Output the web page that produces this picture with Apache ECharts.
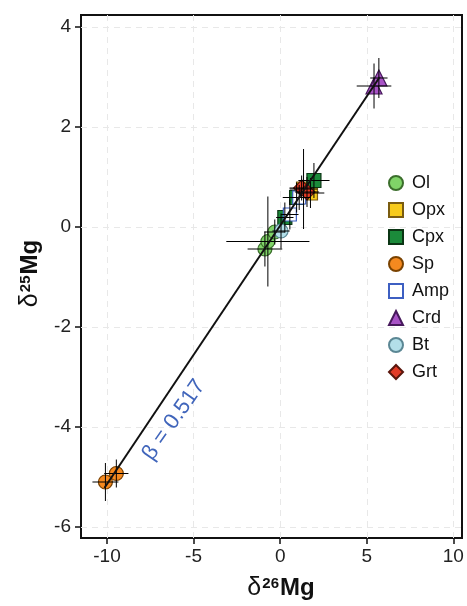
<!DOCTYPE html>
<html>
<head>
<meta charset="utf-8">
<script src="https://cdn.jsdelivr.net/npm/echarts@6/dist/echarts.min.js"></script>
<style>html,body{margin:0;padding:0;background:#fff}#c{width:467px;height:606px}</style>
</head>
<body>
<div id="c"></div>
<script>
// Each point: [d26Mg, d25Mg, err26, err25]
const Ol  = [[-0.88,-0.44,1.0,0.35],[-0.71,-0.29,2.4,0.9],[-0.31,-0.1,0.6,0.25]];
const Opx = [[1.35,0.76,0.8,0.8],[1.75,0.68,0.8,0.3]];
const Cpx = [[0.27,0.19,0.5,0.3],[0.95,0.59,0.8,0.3],[1.95,0.93,0.9,0.35]];
const Sp  = [[-10.09,-5.1,0.75,0.38],[-9.46,-4.93,0.7,0.28]];
const Amp = [[0.56,0.25,0.5,0.3],[1.1,0.59,0.6,0.25]];
const Crd = [[5.42,2.82,1.0,0.45],[5.7,2.98,0.5,0.4]];
const Bt  = [[0.05,-0.08,0.5,0.35]];
const Grt = [[1.24,0.78,0.7,0.25],[1.55,0.7,0.7,0.3]];
const fitLine = [[-10.15,-5.22],[5.75,3.0]];
const xTicks = [-10,-5,0,5,10];
const yTicks = [-6,-4,-2,0,2,4];

const groups = [
  {name:'Ol', data:Ol, symbol:'circle', size:14, color:'#80d468', border:'#3b6e2c'},
  {name:'Opx', data:Opx, symbol:'rect', size:14, color:'#f7cb1c', border:'#7a5c10'},
  {name:'Cpx', data:Cpx, symbol:'rect', size:14, color:'#1b8a3a', border:'#0b3514'},
  {name:'Sp', data:Sp, symbol:'circle', size:14, color:'#f5891f', border:'#7a4200'},
  {name:'Amp', data:Amp, symbol:'rect', size:13, color:'#ffffff', border:'#3d5fc2'},
  {name:'Crd', data:Crd, symbol:'triangle', size:16, color:'#a853c6', border:'#47195c'},
  {name:'Bt', data:Bt, symbol:'circle', size:14, color:'#b3dfe9', border:'#5b8794'},
  {name:'Grt', data:Grt, symbol:'diamond', size:16, color:'#e23b26', border:'#5a160c'}
];

const errData = [];
groups.forEach(g => g.data.forEach(d => errData.push(d)));

const font = 'Liberation Sans';
const series = groups.map(g => ({
  name: g.name, type: 'scatter', symbol: g.symbol, symbolSize: g.size, z: 2,
  data: g.data.map(d => [d[0], d[1]]),
  itemStyle: {color: g.color, borderColor: g.border, borderWidth: 1.2, opacity: 1}
}));
series.push({
  type: 'custom', z: 3, silent: true, encode: {x: 0, y: 1},
  data: errData,
  renderItem: function (params, api) {
    const x = api.value(0), y = api.value(1), ex = api.value(2), ey = api.value(3);
    const a = api.coord([x - ex, y]), b = api.coord([x + ex, y]);
    const c = api.coord([x, y - ey]), d = api.coord([x, y + ey]);
    return {type: 'group', children: [
      {type: 'line', shape: {x1: a[0], y1: a[1], x2: b[0], y2: b[1]}, style: {stroke: '#000', lineWidth: 1}},
      {type: 'line', shape: {x1: c[0], y1: c[1], x2: d[0], y2: d[1]}, style: {stroke: '#000', lineWidth: 1}}
    ]};
  }
});
series.push({
  type: 'line', z: 4, data: fitLine, symbol: 'none', silent: true,
  lineStyle: {color: '#111', width: 2}
});

const nameRich = {
  d: {fontFamily: font, fontSize: 25, color: '#111'},
  s: {fontFamily: font, fontSize: 15, fontWeight: 'bold', color: '#111', verticalAlign: 'top', padding: [0, 1, 9, 1]},
  m: {fontFamily: font, fontSize: 24, fontWeight: 'bold', color: '#111'}
};

const chart = echarts.init(document.getElementById('c'), null, {renderer: 'canvas'});
chart.setOption({
  animation: false,
  backgroundColor: '#fff',
  grid: {left: 81, right: 5, top: 15, bottom: 68, show: true, borderColor: '#111', borderWidth: 2,
         backgroundColor: 'transparent', outerBoundsMode: 'none', containLabel: false},
  xAxis: {
    type: 'value', min: -11.5, max: 10.5, splitNumber: 5,
    name: '{d|δ}{s|26}{m|Mg}', nameLocation: 'middle', nameGap: 38,
    nameTextStyle: {rich: nameRich, padding: [0, 0, 0, 19]},
    axisLine: {show: false, onZero: false},
    axisTick: {show: true, length: 6, lineStyle: {color: '#111', width: 1.5}, customValues: xTicks},
    axisLabel: {fontFamily: font, fontSize: 19, color: '#222', margin: 9, customValues: xTicks},
    splitLine: {show: true, lineStyle: {color: '#e8e8e8', type: [6, 5], width: 1}}
  },
  yAxis: {
    type: 'value', min: -6.22, max: 4.24, splitNumber: 5,
    name: '{d|δ}{s|25}{m|Mg}', nameLocation: 'middle', nameGap: 38, nameRotate: 90,
    nameTextStyle: {rich: nameRich, padding: [0, 0, 0, 6]},
    axisLine: {show: false, onZero: false},
    axisTick: {show: true, length: 6, lineStyle: {color: '#111', width: 1.5}, customValues: yTicks},
    axisLabel: {fontFamily: font, fontSize: 19, color: '#222', margin: 10, customValues: yTicks},
    splitLine: {show: true, lineStyle: {color: '#e8e8e8', type: [6, 5], width: 1}}
  },
  legend: {
    orient: 'vertical', left: 383, top: 169, itemWidth: 14, itemHeight: 14, itemGap: 9,
    data: groups.map(g => g.name),
    textStyle: {fontFamily: font, fontSize: 18, color: '#111', padding: [0, 0, 0, 4]}
  },
  graphic: [{
    type: 'text', x: 174, y: 420, rotation: 55 * Math.PI / 180, z: 10,
    style: {text: 'β = 0.517', fill: '#4065bb', font: '22px "Liberation Sans"', align: 'center', verticalAlign: 'middle'}
  }],
  series: series
});
</script>
</body>
</html>
